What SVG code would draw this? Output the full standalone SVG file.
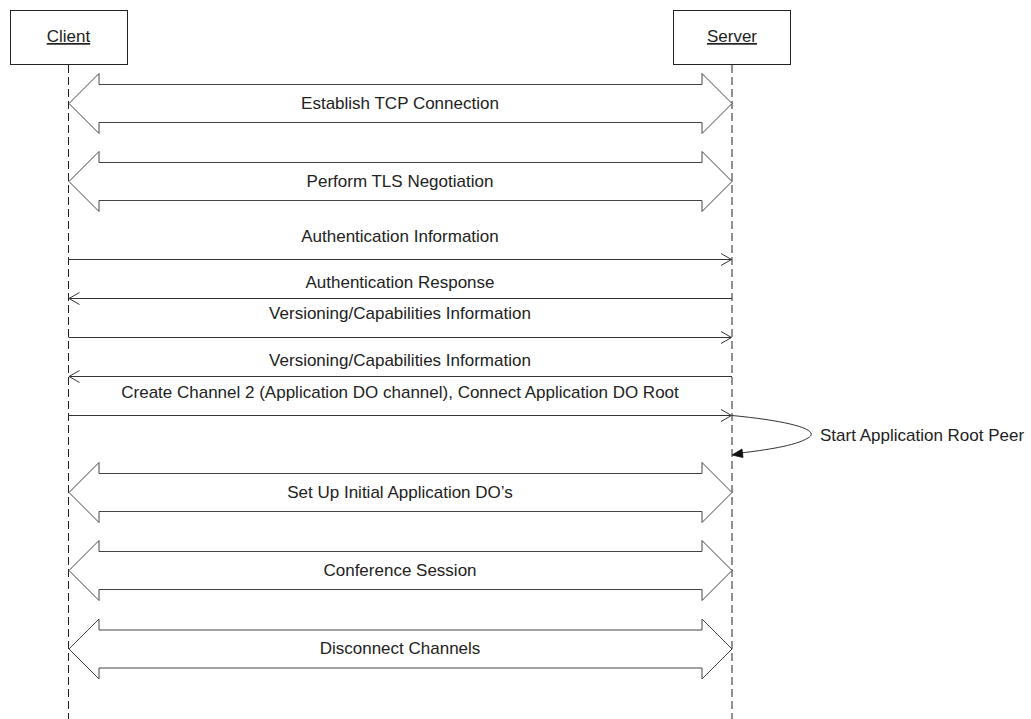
<svg xmlns="http://www.w3.org/2000/svg" width="1031" height="719" viewBox="0 0 1031 719">
<style>
  .box { fill: #ffffff; stroke: #222222; stroke-width: 1; }
  .life { stroke: #222222; stroke-width: 1; stroke-dasharray: 8 4; fill: none; }
  .big { fill: #ffffff; stroke: #444444; stroke-width: 1; stroke-linejoin: miter; }
  .msg { stroke: #333333; stroke-width: 1; fill: none; }
  .head { stroke: #333333; stroke-width: 1; fill: none; }
  .lbl { font-family: "Liberation Sans", Arial, sans-serif; font-size: 17px; fill: #222222; }
  .mid { text-anchor: middle; }
  .name { text-decoration: underline; }
</style>
<defs>
  <path id="bigArrow" d="M 0 0 L 30 -30 L 30 -19 L 633 -19 L 633 -30 L 663 0 L 633 30 L 633 19 L 30 19 L 30 30 Z"/>
</defs>
<rect x="0" y="0" width="1031" height="719" fill="#ffffff"/>

<g id="client">
  <rect class="box" x="10.5" y="10.5" width="117" height="54"/>
  <text class="lbl mid name" x="68.5" y="42">Client</text>
  <line class="life" x1="68.5" y1="65" x2="68.5" y2="719"/>
</g>
<g id="server">
  <rect class="box" x="673.5" y="10.5" width="117" height="54"/>
  <text class="lbl mid name" x="732" y="42">Server</text>
  <line class="life" x1="732" y1="65" x2="732" y2="719" stroke="#555555"/>
</g>

<g id="connectors">
  <g id="tcp">
    <use href="#bigArrow" class="big" transform="translate(69,103.5)"/>
    <text class="lbl mid" x="400" y="109">Establish TCP Connection</text>
  </g>
  <g id="tls">
    <use href="#bigArrow" class="big" transform="translate(69,181.5)"/>
    <text class="lbl mid" x="400" y="187">Perform TLS Negotiation</text>
  </g>
  <g id="authInfo">
    <line class="msg" x1="68.5" y1="259.5" x2="731" y2="259.5"/>
    <polyline class="head" points="721,253.5 731.5,259.5 721,265.5"/>
    <text class="lbl mid" x="400" y="242">Authentication Information</text>
  </g>
  <g id="authResp">
    <line class="msg" x1="69" y1="298.5" x2="732" y2="298.5"/>
    <polyline class="head" points="79.5,292.5 69,298.5 79.5,304.5"/>
    <text class="lbl mid" x="400" y="288">Authentication Response</text>
  </g>
  <g id="vers1">
    <line class="msg" x1="68.5" y1="337.5" x2="731" y2="337.5"/>
    <polyline class="head" points="721,331.5 731.5,337.5 721,343.5"/>
    <text class="lbl mid" x="400" y="319">Versioning/Capabilities Information</text>
  </g>
  <g id="vers2">
    <line class="msg" x1="69" y1="376.5" x2="732" y2="376.5"/>
    <polyline class="head" points="79.5,370.5 69,376.5 79.5,382.5"/>
    <text class="lbl mid" x="400" y="366">Versioning/Capabilities Information</text>
  </g>
  <g id="createChan">
    <line class="msg" x1="68.5" y1="415.5" x2="731" y2="415.5"/>
    <polyline class="head" points="721,409.5 731.5,415.5 721,421.5"/>
    <text class="lbl mid" x="400" y="398">Create Channel 2 (Application DO channel), Connect Application DO Root</text>
  </g>
  <g id="selfMsg">
    <path class="msg" stroke="#111111" d="M 732 415.5 C 790 421, 822 430, 808 438 C 795 446, 765 450, 741 453"/>
    <polygon points="732,455 742,449 743,457.5" fill="#111111" stroke="#111111" stroke-width="0.8"/>
    <text class="lbl" x="820" y="441">Start Application Root Peer</text>
  </g>
  <g id="setup">
    <use href="#bigArrow" class="big" transform="translate(69,492.5)"/>
    <text class="lbl mid" x="400" y="497.5">Set Up Initial Application DO’s</text>
  </g>
  <g id="conf">
    <use href="#bigArrow" class="big" transform="translate(69,570.5)"/>
    <text class="lbl mid" x="400" y="575.5">Conference Session</text>
  </g>
  <g id="disc">
    <use href="#bigArrow" class="big" transform="translate(69,649)"/>
    <text class="lbl mid" x="400" y="654">Disconnect Channels</text>
  </g>
</g>
</svg>
